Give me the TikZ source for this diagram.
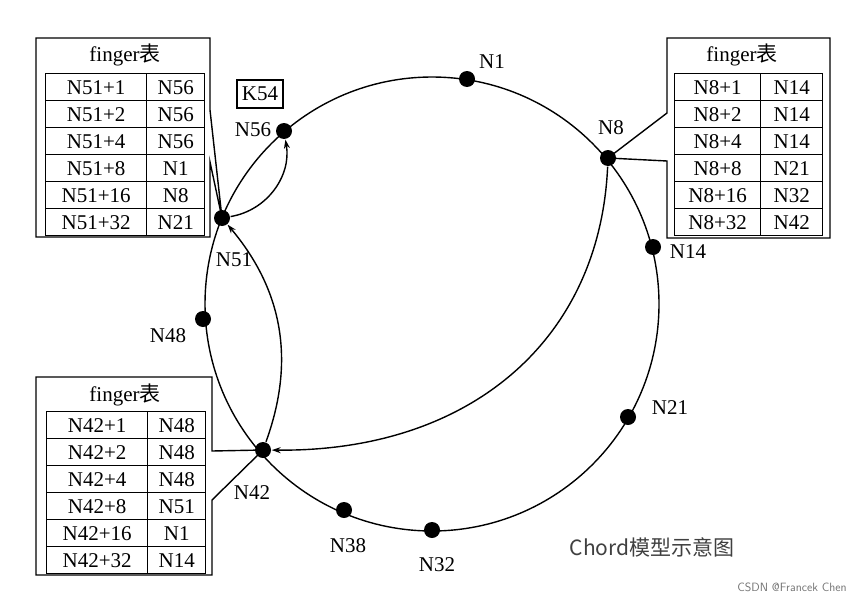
\documentclass[tikz,border=0pt]{standalone}
\usepackage{fontspec}
\setmainfont{Liberation Serif}
\newfontfamily\cjk{Noto Sans CJK SC}
\usetikzlibrary{matrix,arrows.meta}
\tikzset{
  finger table/.style={
    matrix of nodes,
    column sep=-1.4pt, row sep=-1.4pt,
    nodes={draw, line width=1.4pt, anchor=center, minimum height=27pt, inner sep=0pt, font=\fontsize{21}{24}\selectfont},
    column 1/.style={nodes={minimum width=101pt}},
    column 2/.style={nodes={minimum width=58pt}},
  },
  peer/.style={circle, fill, inner sep=0pt, minimum size=16pt},
  peer label/.style={font=\fontsize{21}{24}\selectfont},
  chord/.style={line width=1.4pt, -{Stealth[length=9pt,width=6pt]}},
}
\begin{document}
\begin{tikzpicture}[x=1pt,y=-1pt, line width=1.4pt]
  \useasboundingbox (0,0) rectangle (861,602);
  % ring
  \draw (432,304) circle (227pt);
  \foreach \name/\px/\py/\lx/\ly in {N1/467/79/492/62, N8/608/158/611/128, N14/653/247/688/252,
      N21/628/417/670/408, N32/432/530/437/565, N38/344/510/348/546, N42/263/450/252/493,
      N48/203/319/168/336, N51/222/218/234/260, N56/284/131/253/130}{
    \node[peer] (\name) at (\px,\py) {};
    \node[peer label] (\name-lbl) at (\lx,\ly) {\name};
  }
  \node[draw, peer label, minimum width=46pt, minimum height=28pt, inner sep=0pt] (k54) at (260,94) {K54};

  % N51 finger table
  \draw (210,110) -- (210,38) -- (36,38) -- (36,237) -- (210,237) -- (210,162) -- (N51.center) -- cycle;
  \node[peer label] (t51) at (125,55) {finger{\cjk 表}};
  \matrix[finger table, anchor=north west] (f51) at (41,69) {
    N51+1 & N56 \\ N51+2 & N56 \\ N51+4 & N56 \\
    N51+8 & N1 \\ N51+16 & N8 \\ N51+32 & N21 \\
  };

  % N8 finger table
  \draw (667,113) -- (667,38) -- (830,38) -- (830,238) -- (667,238) -- (667,161) -- (N8.center) -- cycle;
  \node[peer label] (t8) at (742,55) {finger{\cjk 表}};
  \matrix[finger table, anchor=north west, column 1/.style={nodes={minimum width=86pt}}, column 2/.style={nodes={minimum width=62pt}}] (f8) at (670,69) {
    N8+1 & N14 \\ N8+2 & N14 \\ N8+4 & N14 \\
    N8+8 & N21 \\ N8+16 & N32 \\ N8+32 & N42 \\
  };

  % N42 finger table
  \draw (212,451) -- (212,377) -- (36,377) -- (36,575) -- (212,575) -- (212,500) -- (N42.center) -- cycle;
  \node[peer label] (t42) at (125,395) {finger{\cjk 表}};
  \matrix[finger table, anchor=north west] (f42) at (42,407) {
    N42+1 & N48 \\ N42+2 & N48 \\ N42+4 & N48 \\
    N42+8 & N51 \\ N42+16 & N1 \\ N42+32 & N14 \\
  };

  % lookup path
  \draw[chord] (N51) to[bend right=45] (N56);
  \draw[chord] (N42) to[bend right=30] (N51);
  \draw[chord] (N8) .. controls (600,340) and (470,452) .. (N42);

  \node[font=\cjk\fontsize{21}{24}\selectfont, text=black!75] (title) at (652,547) {Chord模型示意图};
  \node[font=\sffamily\fontsize{12}{14}\selectfont, text=black!55] (mark) at (792,587) {CSDN @Francek Chen};
\end{tikzpicture}
\end{document}
